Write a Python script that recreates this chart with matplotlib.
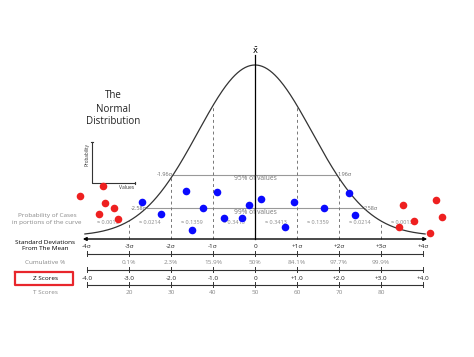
import numpy as np
import matplotlib
matplotlib.use("Agg")
import matplotlib.pyplot as plt

plt.rcParams['font.family'] = ['Open Sans', 'DejaVu Sans']

# data (x in standard deviations, y as fraction of the curve's peak)
curve_sd = 1.36
sd_ticks = [-4, -3, -2, -1, 0, 1, 2, 3, 4]
sd_labels = ["-4σ", "-3σ", "-2σ", "-1σ", "0", "+1σ", "+2σ", "+3σ", "+4σ"]
cum_pos = [-3, -2, -1, 0, 1, 2, 3]
cum_labels = ["0.1%", "2.3%", "15.9%", "50%", "84.1%", "97.7%", "99.9%"]
z_labels = ["-4.0", "-3.0", "-2.0", "-1.0", "0", "+1.0", "+2.0", "+3.0", "+4.0"]
t_pos = [-3, -2, -1, 0, 1, 2, 3]
t_labels = ["20", "30", "40", "50", "60", "70", "80"]
prob_pos = [-3.5, -2.5, -1.5, -0.5, 0.5, 1.5, 2.5, 3.5]
prob_labels = ["≈ 0.0013", "≈ 0.0214", "≈ 0.1359", "≈ 0.3413",
               "≈ 0.3413", "≈ 0.1359", "≈ 0.0214", "≈ 0.0013"]

blue_x = [-2.69, -2.24, -1.64, -1.50, -1.24, -0.90, -0.74, -0.31, -0.14, 0.14, 0.71, 0.93, 1.64, 2.24, 2.38]
blue_y = [0.199, 0.129, 0.263, 0.035, 0.164, 0.257, 0.105, 0.105, 0.181, 0.216, 0.053, 0.199, 0.164, 0.251, 0.123]
red_x = [-4.17, -3.62, -3.57, -3.36, -3.71, -3.26, 3.52, 4.31, 3.79, 4.45, 3.43, 4.17]
red_y = [0.234, 0.292, 0.193, 0.164, 0.129, 0.099, 0.181, 0.211, 0.088, 0.111, 0.053, 0.018]


def row(p):
    # pixel row of the picture -> y units
    return (236 - p) / 171.0


def pdf(x):
    return np.exp(-0.5 * (np.asarray(x) / curve_sd) ** 2)


fig = plt.figure(figsize=(4.74, 3.57), dpi=100)
ax = fig.add_axes([0, 0, 1, 1])
ax.set_xlim(-255 / 42.0, (474 - 255) / 42.0)
ax.set_ylim(row(357), row(0))
ax.axis("off")

gray = "#888888"
lgray = "#999999"

# curve
xs = np.linspace(-4.05, 4.05, 400)
ax.plot(xs, pdf(xs), color="#333333", lw=0.9, zorder=3)

# mean line and x-bar
ax.plot([0, 0], [row(239), row(55)], color="black", lw=0.9, zorder=3)
ax.text(0, row(51), r"$\bar{\mathrm{x}}$", ha="center", va="center", fontsize=6)

# dashed sd lines
for s in [-3, -2, -1, 1, 2, 3]:
    ax.plot([s, s], [row(239), pdf(s)], color="#777777", lw=0.7, ls=(0, (3, 3)), zorder=2)

# 95% / 99% lines
ax.plot([-1.96, 1.96], [row(175), row(175)], color="#999999", lw=0.8, zorder=1)
ax.plot([-2.58, 2.58], [row(208), row(208)], color="#999999", lw=0.8, zorder=1)
ax.text(-1.96, row(175), "-1.96σ", ha="right", va="center", fontsize=4, color="#666666")
ax.text(1.96, row(175), "1.96σ", ha="left", va="center", fontsize=4, color="#666666")
ax.text(-2.58, row(208), "-2.58σ", ha="right", va="center", fontsize=4, color="#666666")
ax.text(2.58, row(208), "2.58σ", ha="left", va="center", fontsize=4, color="#666666")
ax.text(0, row(179), "95% of values", ha="center", va="center", fontsize=4.8, color="#777777")
ax.text(0, row(212), "99% of values", ha="center", va="center", fontsize=4.8, color="#777777")

for p, lab in zip(prob_pos, prob_labels):
    ax.text(p, row(223), lab, ha="center", va="center", fontsize=4, color=gray)

# dots
ax.scatter(blue_x, blue_y, s=30, color="#0a0aff", zorder=5, linewidths=0)
ax.scatter(red_x, red_y, s=30, color="#ee2020", zorder=5, linewidths=0)

# sd arrow axis
ax.annotate("", xy=(-4.1, row(239)), xytext=(4.1, row(239)),
            arrowprops=dict(arrowstyle="<|-|>", color="black", lw=1.0,
                            mutation_scale=5, shrinkA=0, shrinkB=0))

# scale rows
for p, lab in zip(sd_ticks, sd_labels):
    ax.text(p, row(247), lab, ha="center", va="center", fontsize=4.6, color="#222222")
for p, lab in zip(cum_pos, cum_labels):
    ax.text(p, row(263), lab, ha="center", va="center", fontsize=4.6, color=gray)
for p, lab in zip(sd_ticks, z_labels):
    ax.text(p, row(278), lab, ha="center", va="center", fontsize=4.6, color="#222222")
for p, lab in zip(t_pos, t_labels):
    ax.text(p, row(293), lab, ha="center", va="center", fontsize=4.6, color=gray)

for ly in [254, 270, 285]:
    ax.plot([-4, 4], [row(ly), row(ly)], color="#333333", lw=0.8)
    for s in sd_ticks:
        ax.plot([s, s], [row(ly - 3), row(ly + 2)], color="#333333", lw=0.7)

# row labels on the left
lx = (45 - 255) / 42.0
ax.text((47 - 255) / 42.0, row(219), "Probability of Cases\nin portions of the curve",
        ha="center", va="center", fontsize=4.6, color=gray, linespacing=1.3)
ax.text(lx, row(245.5), "Standard Deviations\nFrom The Mean", ha="center", va="center",
        fontsize=4.6, color="black", linespacing=1.25)
ax.text(lx, row(263), "Cumulative %", ha="center", va="center", fontsize=4.6, color=gray)
ax.text(lx, row(278), "Z Scores", ha="center", va="center", fontsize=4.6, color="black")
ax.text(lx, row(293), "T Scores", ha="center", va="center", fontsize=4.6, color=gray)
bx0, bx1 = (15 - 255) / 42.0, (73 - 255) / 42.0
by0, by1 = row(272), row(285)
ax.plot([bx0, bx1, bx1, bx0, bx0], [by0, by0, by1, by1, by0], color="#e8262c", lw=1.6)

# title
ax.text((113 - 255) / 42.0, row(109), "The\nNormal\nDistribution", ha="center", va="center",
        fontsize=7, color="#222222", linespacing=1.25)

# small inset axes sketch
ix0, ix1 = (92 - 255) / 42.0, (135 - 255) / 42.0
iy0, iy1 = row(183), row(142)
ax.plot([ix0, ix0, ix1], [iy1, iy0, iy0], color="#333333", lw=0.8)
ax.plot([ix0 - 0.03, ix0 + 0.03], [iy1, iy1], color="#333333", lw=0.8)
ax.plot([ix1, ix1], [iy0 - 0.008, iy0 + 0.008], color="#333333", lw=0.8)
ax.text((87 - 255) / 42.0, row(155), "Probability", rotation=90, ha="center", va="center",
        fontsize=3.3, color="#333333")
ax.text((127 - 255) / 42.0, row(187.5), "Values", ha="center", va="center",
        fontsize=3.6, color="#333333")

fig.savefig("out.png", dpi=100)
